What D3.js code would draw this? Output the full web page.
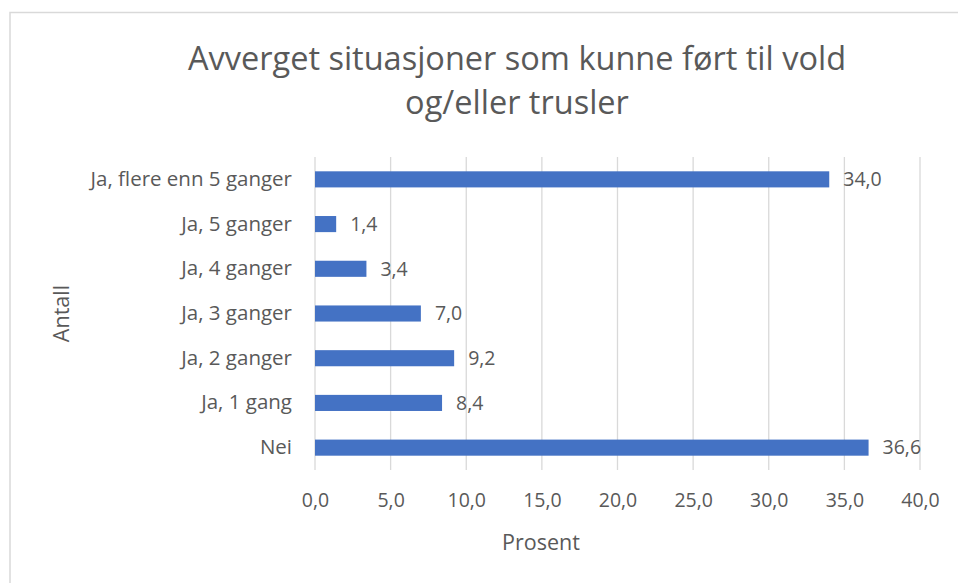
<!DOCTYPE html>
<html>
<head>
<meta charset="utf-8">
<script src="https://cdn.jsdelivr.net/npm/d3@7"></script>
<style>
  body { margin: 0; background: #fff; }
  text { font-family: "Open Sans", sans-serif; fill: #595959; }
</style>
</head>
<body>
<div id="chart"></div>
<script>
// data
var categories = ['Ja, flere enn 5 ganger', 'Ja, 5 ganger', 'Ja, 4 ganger', 'Ja, 3 ganger', 'Ja, 2 ganger', 'Ja, 1 gang', 'Nei'];
var values = [34.0, 1.4, 3.4, 7.0, 9.2, 8.4, 36.6];
var xTicks = [0, 5, 10, 15, 20, 25, 30, 35, 40];
var titleLines = ['Avverget situasjoner som kunne ført til vold', 'og/eller trusler'];

var width = 958, height = 583;
var plot = {left: 315, right: 920, top: 157, bottom: 470};

var svg = d3.select('#chart')
    .append('svg')
    .attr('width', width)
    .attr('height', height);

// outer chart border
svg.append('rect')
    .attr('x', 10)
    .attr('y', 12.5)
    .attr('width', 1000)
    .attr('height', 700)
    .attr('fill', 'none')
    .attr('stroke', '#d9d9d9')
    .attr('stroke-width', 1.5);

var x = d3.scaleLinear()
    .domain([0, 40])
    .range([plot.left, plot.right]);

var y = d3.scaleBand()
    .domain(categories)
    .range([plot.top, plot.bottom])
    .paddingInner(0.64)
    .paddingOuter(0.32);

var fmt = function(d) { return d3.format('.1f')(d).replace('.', ','); };

// gridlines
svg.append('g')
    .selectAll('line')
    .data(xTicks)
    .enter()
    .append('line')
    .attr('x1', function(d) { return x(d); })
    .attr('x2', function(d) { return x(d); })
    .attr('y1', plot.top)
    .attr('y2', plot.bottom)
    .attr('stroke', '#d9d9d9')
    .attr('stroke-width', 1.3);

// x axis tick labels
var xAxis = d3.axisBottom(x)
    .tickValues(xTicks)
    .tickFormat(fmt)
    .tickSize(0)
    .tickPadding(23);

var gx = svg.append('g')
    .attr('transform', 'translate(0,' + plot.bottom + ')')
    .call(xAxis);
gx.select('.domain').remove();
gx.selectAll('text')
    .attr('font-family', '"Open Sans", sans-serif')
    .style('font-size', '19.5px')
    .attr('fill', '#595959');

// y axis category labels
var yAxis = d3.axisLeft(y)
    .tickSize(0)
    .tickPadding(23);

var gy = svg.append('g')
    .attr('transform', 'translate(' + plot.left + ',0)')
    .call(yAxis);
gy.select('.domain').remove();
gy.selectAll('text')
    .attr('font-family', '"Open Sans", sans-serif')
    .style('font-size', '20.5px')
    .attr('fill', '#595959');

// bars
svg.append('g')
    .selectAll('rect')
    .data(values)
    .enter()
    .append('rect')
    .attr('x', x(0))
    .attr('y', function(d, i) { return y(categories[i]); })
    .attr('width', function(d) { return x(d) - x(0); })
    .attr('height', y.bandwidth())
    .attr('fill', '#4472c4');

// value labels
svg.append('g')
    .selectAll('text')
    .data(values)
    .enter()
    .append('text')
    .attr('x', function(d) { return x(d) + 14; })
    .attr('y', function(d, i) { return y(categories[i]) + y.bandwidth() / 2; })
    .attr('dy', '0.35em')
    .style('font-size', '19.5px')
    .text(fmt);

// title
svg.append('text')
    .attr('x', 517)
    .attr('y', 70)
    .attr('text-anchor', 'middle')
    .style('font-size', '32.5px')
    .selectAll('tspan')
    .data(titleLines)
    .enter()
    .append('tspan')
    .attr('x', 517)
    .attr('dy', function(d, i) { return i === 0 ? 0 : 44; })
    .text(function(d) { return d; });

// axis titles
svg.append('text')
    .attr('x', 541)
    .attr('y', 550)
    .attr('text-anchor', 'middle')
    .style('font-size', '21.5px')
    .text('Prosent');

svg.append('text')
    .attr('transform', 'translate(69,' + ((plot.top + plot.bottom) / 2) + ') rotate(-90)')
    .attr('text-anchor', 'middle')
    .style('font-size', '21.5px')
    .text('Antall');
</script>
</body>
</html>
